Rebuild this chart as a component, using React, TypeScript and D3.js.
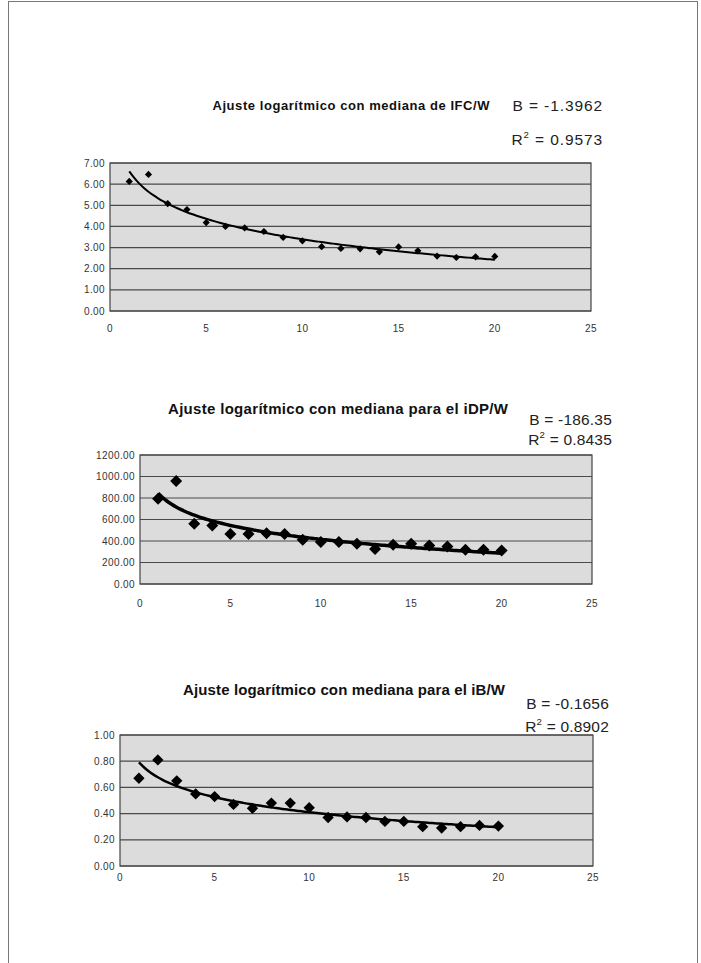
import React from "react";
import * as d3 from "d3";

const xs = d3.range(1, 21);
const xTicks = [0, 5, 10, 15, 20, 25];

// IFC/W medians
const ifcValues = [6.13, 6.46, 5.08, 4.8, 4.18, 4.0, 3.93, 3.76, 3.48, 3.32, 3.04, 2.96, 2.94, 2.8, 3.03, 2.85, 2.6, 2.53, 2.56, 2.58];
const ifcTicks = [0, 1, 2, 3, 4, 5, 6, 7];
// iDP/W medians
const idpValues = [792, 959, 560, 544, 464, 464, 473, 464, 411, 390, 390, 374, 325, 365, 374, 359, 349, 318, 318, 312];
const idpTicks = [0, 200, 400, 600, 800, 1000, 1200];
// iB/W medians
const ibValues = [0.67, 0.81, 0.65, 0.55, 0.53, 0.47, 0.44, 0.48, 0.48, 0.445, 0.37, 0.375, 0.37, 0.34, 0.34, 0.3, 0.29, 0.3, 0.31, 0.305];
const ibTicks = [0, 0.2, 0.4, 0.6, 0.8, 1.0];

const font = "'Liberation Sans', Arial, sans-serif";

type ChartProps = {
  values: number[];
  yTicks: number[];
  title: string;
  b: number;
  r2: string;
  box: { left: number; right: number; top: number; bottom: number };
  xLabelGap: number;
  titleX: number;
  titleY: number;
  titleSize: number;
  titleLen: number;
  statX: number;
  bY: number;
  rY: number;
  statSize: number;
  statSpacing: number;
  marker: number;
  lineWidth: number;
};

const Chart = (p: ChartProps) => {
  const ref = React.useRef<SVGGElement>(null);
  React.useEffect(() => {
    const g = d3.select(ref.current);
    g.selectAll("*").remove();
    const { left, right, top, bottom } = p.box;
    const x = d3.scaleLinear().domain([0, 25]).range([left, right]);
    const y = d3.scaleLinear().domain([0, d3.max(p.yTicks) as number]).range([bottom, top]);

    g.append("rect")
      .attr("x", left).attr("y", top)
      .attr("width", right - left).attr("height", bottom - top)
      .attr("fill", "#dcdcdc");

    // grid
    g.selectAll(".grid").data(p.yTicks).enter().append("line")
      .attr("x1", left).attr("x2", right)
      .attr("y1", (d) => y(d)).attr("y2", (d) => y(d))
      .attr("stroke", "#4a4a4a").attr("stroke-width", 1.2);

    g.append("rect")
      .attr("x", left).attr("y", top)
      .attr("width", right - left).attr("height", bottom - top)
      .attr("fill", "none").attr("stroke", "#444").attr("stroke-width", 1.2);

    const decimals = d3.format(".2f");
    g.selectAll(".yl").data(p.yTicks).enter().append("text")
      .attr("x", left - 5).attr("y", (d) => y(d) + 3.5)
      .attr("text-anchor", "end").attr("font-size", 10).attr("font-family", font)
      .attr("letter-spacing", 0.4)
      .attr("fill", "#333")
      .text((d) => decimals(d));

    g.selectAll(".xl").data(xTicks).enter().append("text")
      .attr("x", (d) => x(d)).attr("y", bottom + p.xLabelGap)
      .attr("text-anchor", "middle").attr("font-size", 10).attr("font-family", font)
      .attr("letter-spacing", 0.4)
      .attr("fill", "#333")
      .text((d) => `${d}`);

    // log trend using the reported slope
    const lx = xs.map((v) => Math.log(v));
    const a = (d3.mean(p.values) as number) - p.b * (d3.mean(lx) as number);
    const trend = d3.range(1, 20.01, 0.25).map((v) => [v, a + p.b * Math.log(v)]);
    const line = d3.line<number[]>().x((d) => x(d[0])).y((d) => y(d[1])).curve(d3.curveBasis);
    g.append("path")
      .attr("d", line(trend))
      .attr("fill", "none").attr("stroke", "#000").attr("stroke-width", p.lineWidth);

    const sym = d3.symbol().type(d3.symbolSquare).size(p.marker);
    g.selectAll(".pt").data(p.values).enter().append("path")
      .attr("d", sym() as string)
      .attr("transform", (d, i) => `translate(${x(xs[i])},${y(d)}) rotate(45)`)
      .attr("fill", "#000");

    g.append("text")
      .attr("x", p.titleX).attr("y", p.titleY)
      .attr("text-anchor", "middle").attr("font-weight", "bold")
      .attr("font-size", p.titleSize).attr("font-family", font)
      .attr("textLength", p.titleLen).attr("lengthAdjust", "spacing")
      .attr("fill", "#111")
      .text(p.title);

    g.append("text")
      .attr("x", p.statX).attr("y", p.bY)
      .attr("text-anchor", "end").attr("font-size", p.statSize).attr("font-family", font)
      .attr("letter-spacing", p.statSpacing)
      .attr("fill", "#222")
      .text(`B = ${p.b}`);

    const r = g.append("text")
      .attr("x", p.statX).attr("y", p.rY)
      .attr("text-anchor", "end").attr("font-size", p.statSize).attr("font-family", font)
      .attr("letter-spacing", p.statSpacing)
      .attr("fill", "#222");
    r.append("tspan").text("R");
    r.append("tspan").attr("font-size", p.statSize * 0.62).attr("dy", -p.statSize * 0.42).text("2");
    r.append("tspan").attr("dy", p.statSize * 0.42).text(` = ${p.r2}`);
  }, [p]);
  return <g ref={ref} />;
};

export default function App() {
  return (
    <svg width={701} height={963} style={{ position: "absolute", left: 0, top: 0, background: "#fff" }}>
      <rect x={8.5} y={1.5} width={689} height={970} fill="none" stroke="#777" strokeWidth={1} />
      <Chart
        values={ifcValues} yTicks={ifcTicks}
        title="Ajuste logarítmico con mediana de IFC/W" b={-1.3962} r2="0.9573"
        box={{ left: 110, right: 591, top: 163, bottom: 311 }} xLabelGap={21}
        titleX={351} titleY={110} titleSize={13} titleLen={277}
        statX={603} bY={111} rY={145} statSize={15.5} statSpacing={0.9}
        marker={26} lineWidth={2}
      />
      <Chart
        values={idpValues} yTicks={idpTicks}
        title="Ajuste logarítmico con mediana para el iDP/W" b={-186.35} r2="0.8435"
        box={{ left: 140, right: 592, top: 455, bottom: 584 }} xLabelGap={23}
        titleX={338} titleY={414} titleSize={15} titleLen={340}
        statX={612} bY={425} rY={445} statSize={15.5} statSpacing={0.2}
        marker={72} lineWidth={3.5}
      />
      <Chart
        values={ibValues} yTicks={ibTicks}
        title="Ajuste logarítmico con mediana para el iB/W" b={-0.1656} r2="0.8902"
        box={{ left: 120, right: 593, top: 735, bottom: 866 }} xLabelGap={15}
        titleX={344} titleY={695} titleSize={15} titleLen={322}
        statX={609} bY={709} rY={732} statSize={15.5} statSpacing={0.2}
        marker={64} lineWidth={2.5}
      />
    </svg>
  );
}
